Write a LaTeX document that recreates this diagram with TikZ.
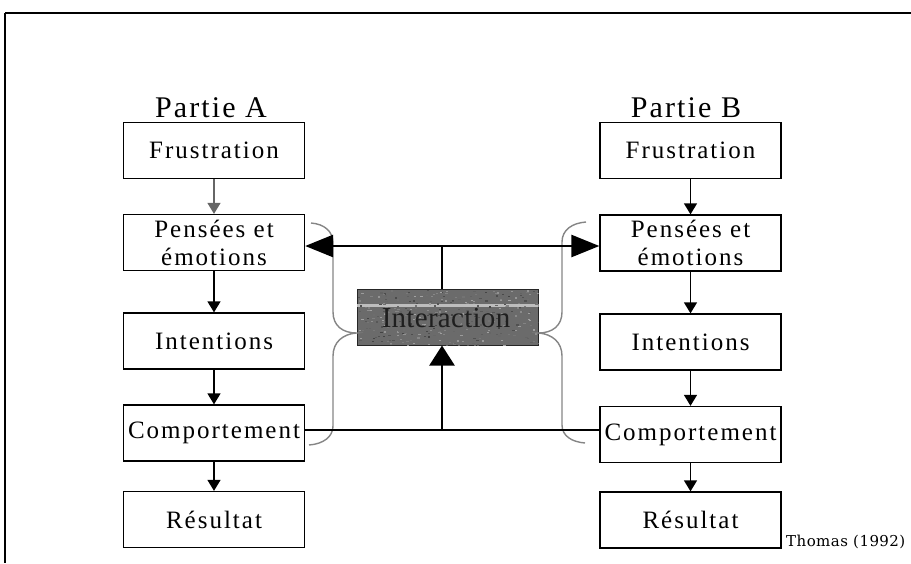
\documentclass[tikz,border=0pt]{standalone}
\usepackage{fontspec}
\setmainfont{Liberation Serif}
\usetikzlibrary{arrows.meta,calc}
\newfontfamily\boxfont{Liberation Serif}[LetterSpace=8]
\newfontfamily\headfont{Liberation Serif}[LetterSpace=7]
\newfontfamily\interfont{Liberation Serif}[LetterSpace=1]
\newfontfamily\notefont{DejaVu Serif}[LetterSpace=3]
\definecolor{bracegray}{gray}{0.52}
\definecolor{interfill}{gray}{0.42}
\definecolor{intertext}{gray}{0.12}
\tikzset{
  stepbox/.style={draw, line width=1.3pt, minimum width=181pt, minimum height=56pt,
    inner sep=0pt, align=center, font=\boxfont\fontsize{25}{28}\selectfont},
  head/.style={inner sep=0pt, anchor=base, font=\headfont\fontsize{30}{32}\selectfont},
  flow/.style={line width=1.4pt, -{Triangle[length=11pt,width=13pt]}},
  bigtip/.style={line width=2.6pt},
  brace/.style={draw=bracegray, line width=1.4pt},
}
\begin{document}
\begin{tikzpicture}[x=1pt, y=-1pt]
\useasboundingbox (0,0) rectangle (911,563);

% outer frame (top and left edges)
\draw[line width=2.6pt] (5,13) -- (911,13);
\draw[line width=1.6pt] (5,13) -- (5,563);

% column headings
\node[head] (ha) at (211,117) {Partie A};
\node[head] (hb) at (686,117) {Partie B};

% column A
\node[stepbox] (fa) at (214,150.5) {Frustration};
\node[stepbox] (pa) at (214,242.5) {Pensées et\\émotions};
\node[stepbox] (ia) at (214,341) {Intentions};
\node[stepbox] (ca) at (214,433) {Comportement};
\node[stepbox] (ra) at (214,519.5) {Résultat};

% column B
\node[stepbox] (fb) at (690.5,150.5) {Frustration};
\node[stepbox] (pb) at (690.5,243) {Pensées et\\émotions};
\node[stepbox] (ib) at (690.5,342) {Intentions};
\node[stepbox] (cb) at (690.5,434.5) {Comportement};
\node[stepbox] (rb) at (690.5,520) {Résultat};

% vertical flows
\draw[flow, draw=gray!80!black] (fa) -- (pa);
\draw[flow] (pa) -- (ia);
\draw[flow] (ia) -- (ca);
\draw[flow] (ca) -- (ra);
\draw[flow] (fb) -- (pb);
\draw[flow] (pb) -- (ib);
\draw[flow] (ib) -- (cb);
\draw[flow] (cb) -- (rb);

% interaction box with grainy shading
\node[draw=black!85, line width=1pt, fill=interfill, minimum width=181pt, minimum height=56pt,
      inner sep=0pt] (inter) at (447.5,317) {};
\begin{scope}
  \clip (inter.south west) rectangle (inter.north east);
  \fill[gray!52] ($(inter.north west)+(0,15)$) rectangle ($(inter.north east)+(0,18)$);
  \pgfmathsetseed{7}
  \foreach \k in {1,...,320}{
    \pgfmathsetmacro{\px}{358+180*rnd}
    \pgfmathsetmacro{\py}{290+55*rnd}
    \pgfmathsetmacro{\sh}{35+40*rnd}
    \fill[black!\sh] (\px,\py) rectangle ++(2.2,1.2);
  }
\end{scope}
\node[text=intertext, font=\interfont\fontsize{29}{30}\selectfont,
      inner sep=0pt] (itext) at (446,318) {Interaction};

% braces gathering each side into the interaction
\draw[brace] (311,223) .. controls (324,224) and (333,231) .. (333,243)
  -- (333,312) .. controls (333,326) and (343,333) .. (inter.west |- 0,333)
  .. controls (343,334) and (333,342) .. (333,356)
  -- (333,426) .. controls (333,437) and (323,444) .. (309,445);
\draw[brace] (586,222) .. controls (572,223) and (562,230) .. (562,242)
  -- (562,312) .. controls (562,326) and (552,333) .. (inter.east |- 0,333)
  .. controls (552,334) and (562,342) .. (562,356)
  -- (562,425) .. controls (562,436) and (572,442) .. (585,443);

% exchanges between the two parties
\coordinate (jtop) at (442,246);
\coordinate (jbot) at (442,430);
\draw[bigtip, {Triangle[length=28pt,width=22pt]}-{Triangle[length=28pt,width=22pt]}]
  ([yshift=-3.5pt]pa.east) -- ([yshift=-3pt]pb.west);
\draw[line width=2.4pt] (jtop) -- (jtop |- inter.north);
\draw[line width=2.6pt] ([yshift=3pt]ca.east) -- ([yshift=4.5pt]cb.west);
\draw[line width=2.4pt, -{Triangle[length=20pt,width=25pt]}] (jbot) -- (jbot |- inter.south);

% source
\node[anchor=base west, inner sep=0pt, font=\notefont\fontsize{15}{16}\selectfont] (src) at (786,546) {Thomas (1992)};
\end{tikzpicture}
\end{document}
